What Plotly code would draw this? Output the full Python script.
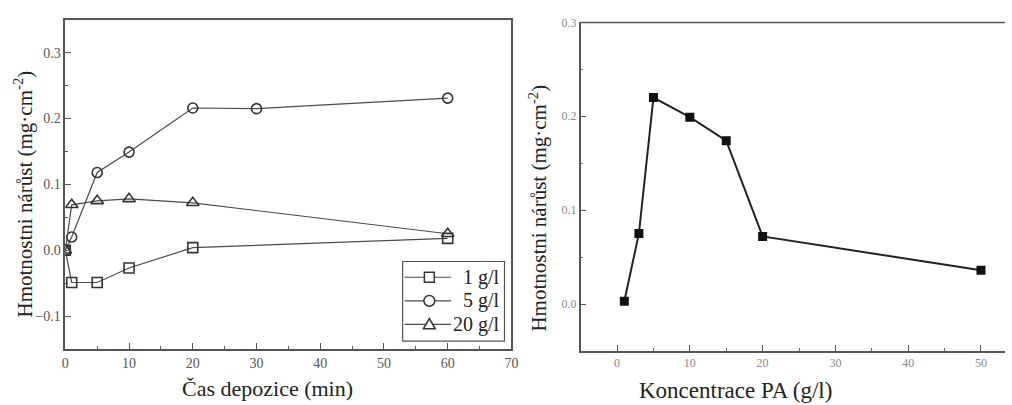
import plotly.graph_objects as go

# ---- data: left panel (time of deposition) ----
time_min = [0, 1, 5, 10, 20, 60]
time_min_5 = [0, 1, 5, 10, 20, 30, 60]
gain_1gl = [0.0, -0.049, -0.049, -0.027, 0.004, 0.018]
gain_5gl = [0.0, 0.020, 0.118, 0.149, 0.216, 0.215, 0.231]
gain_20gl = [0.0, 0.069, 0.075, 0.078, 0.072, 0.025]
series_names = ["1 g/l", "5 g/l", "20 g/l"]

# ---- data: right panel (PA concentration) ----
conc_pa = [1, 3, 5, 10, 15, 20, 50]
gain_pa = [0.003, 0.075, 0.220, 0.199, 0.174, 0.072, 0.036]

W, H = 1012, 405
FONT = "Liberation Serif, Times New Roman, serif"

def px_x(a, b):
    return [a / W, b / W]

def px_y(top, bottom):
    return [(H - bottom) / H, (H - top) / H]

def PX(x):
    return x / W

def PY(y):
    return (H - y) / H

fig = go.Figure()

line_col = "#4a4a4a"
mk_col = "#333"
symbols = ["square-open", "circle-open", "triangle-up-open"]
sizes = [10, 10, 11]
xs = [time_min, time_min_5, time_min]
ys = [gain_1gl, gain_5gl, gain_20gl]
for i in range(3):
    fig.add_trace(go.Scatter(x=xs[i], y=ys[i], name=series_names[i], mode="lines+markers",
                             showlegend=False,
                             line=dict(color=line_col, width=1.2),
                             marker=dict(symbol=symbols[i], size=sizes[i], color=mk_col,
                                         line=dict(width=1.6)),
                             xaxis="x", yaxis="y"))
fig.add_trace(go.Scatter(x=conc_pa, y=gain_pa, mode="lines+markers", showlegend=False,
                         line=dict(color="#222", width=2),
                         marker=dict(symbol="square", size=9, color="#111"),
                         xaxis="x2", yaxis="y2"))

axis_common = dict(showgrid=False, zeroline=False, showline=True, linecolor="#555", linewidth=1.6,
                   ticks="inside", ticklen=6, tickwidth=1.2, tickcolor="#555")

fig.update_layout(
    width=W, height=H, margin=dict(l=0, r=0, t=0, b=0),
    paper_bgcolor="white", plot_bgcolor="white",
    font=dict(family=FONT, color="#222"),
    xaxis=dict(domain=px_x(62, 513), range=[0, 70], tick0=0, dtick=10, mirror=True,
               minor=dict(ticks="inside", ticklen=3, dtick=5, tickcolor="#555"),
               tickfont=dict(family=FONT, size=14, color="#555"), anchor="y", **axis_common),
    yaxis=dict(domain=px_y(13, 348), range=[-0.15, 0.35], tick0=0, dtick=0.1, tickformat=".1f",
               mirror=True, minor=dict(ticks="inside", ticklen=3, dtick=0.05, tickcolor="#555"),
               tickfont=dict(family=FONT, size=14, color="#555"), anchor="x", **axis_common),
    xaxis2=dict(domain=px_x(583, 1012), range=[-5, 53.3], tick0=0, dtick=10, mirror=False,
                minor=dict(ticks="inside", ticklen=3, dtick=5, tickcolor="#666"),
                tickfont=dict(family=FONT, size=12, color="#888"), anchor="y2", **axis_common),
    yaxis2=dict(domain=px_y(15.7, 350), range=[-0.05, 0.3], tick0=0, dtick=0.1, tickformat=".1f",
                mirror=False, minor=dict(ticks="inside", ticklen=3, dtick=0.05, tickcolor="#666"),
                tickfont=dict(family=FONT, size=12, color="#888"), anchor="x2", **axis_common),
    showlegend=False,
)

# top border of right panel
fig.add_shape(type="line", xref="paper", yref="paper", x0=PX(583), x1=1, y0=PY(15.7), y1=PY(15.7),
              line=dict(color="#555", width=1.6))

# ---- manual legend (left panel) ----
fig.add_shape(type="rect", xref="paper", yref="paper", x0=PX(403), x1=PX(506), y0=PY(340), y1=PY(259),
              line=dict(color="#555", width=1.2), fillcolor="white", layer="above")
row_y = [275, 299, 323]
for i in range(3):
    yy = row_y[i]
    fig.add_shape(type="line", xref="paper", yref="paper", x0=PX(405), x1=PX(452), y0=PY(yy), y1=PY(yy),
                  line=dict(color=line_col, width=1.2), layer="above")
    cx = 430
    if i == 0:
        fig.add_shape(type="rect", xref="paper", yref="paper", x0=PX(cx - 5), x1=PX(cx + 5),
                      y0=PY(yy + 5), y1=PY(yy - 5), line=dict(color=mk_col, width=1.5),
                      fillcolor="white", layer="above")
    elif i == 1:
        fig.add_shape(type="circle", xref="paper", yref="paper", x0=PX(cx - 5.5), x1=PX(cx + 5.5),
                      y0=PY(yy + 5.5), y1=PY(yy - 5.5), line=dict(color=mk_col, width=1.5),
                      fillcolor="white", layer="above")
    else:
        path = "M {} {} L {} {} L {} {} Z".format(PX(cx - 6), PY(yy + 4.5), PX(cx + 6), PY(yy + 4.5),
                                                   PX(cx), PY(yy - 6))
        fig.add_shape(type="path", xref="paper", yref="paper", path=path,
                      line=dict(color=mk_col, width=1.5), fillcolor="white", layer="above")
    fig.add_annotation(text=series_names[i], xref="paper", yref="paper", x=PX(503), y=PY(yy),
                       xanchor="right", yanchor="middle", showarrow=False,
                       font=dict(family=FONT, size=20, color="#222"))

ann_font = dict(family=FONT, size=21, color="#222")
ytitle = "Hmotnostni nárůst (mg·cm<sup>-2</sup>)"
fig.add_annotation(text="Čas depozice (min)", xref="paper", yref="paper", x=PX(266), y=PY(388),
                   showarrow=False, font=dict(family=FONT, size=22, color="#222"),
                   xanchor="center", yanchor="middle")
fig.add_annotation(text="Koncentrace PA (g/l)", xref="paper", yref="paper", x=PX(740), y=PY(390),
                   showarrow=False, font=dict(family=FONT, size=23, color="#222"),
                   xanchor="center", yanchor="middle")
fig.add_annotation(text=ytitle, xref="paper", yref="paper", x=PX(20), y=PY(190), textangle=-90,
                   showarrow=False, font=ann_font, xanchor="center", yanchor="middle")
fig.add_annotation(text=ytitle, xref="paper", yref="paper", x=PX(540), y=PY(205), textangle=-90,
                   showarrow=False, font=ann_font, xanchor="center", yanchor="middle")

fig.write_html("out.html", config={"displayModeBar": False},
               post_script="document.body.style.margin='0px';document.body.style.overflow='hidden';")
